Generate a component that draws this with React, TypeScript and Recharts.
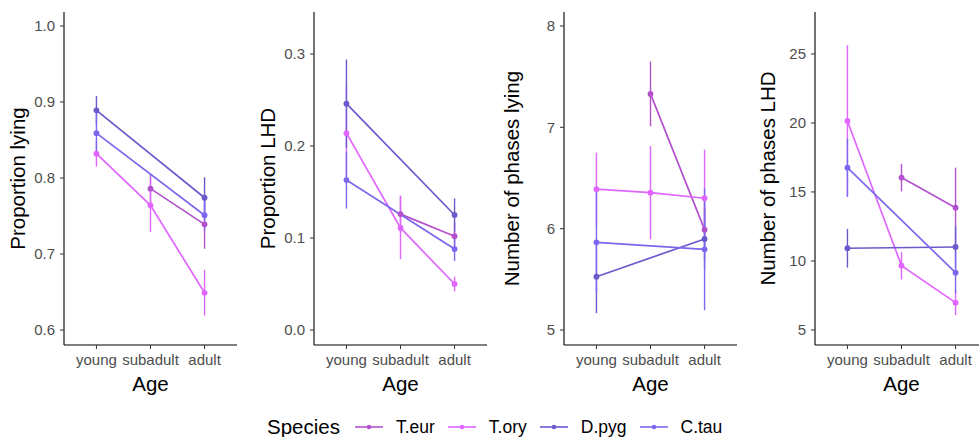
import React from "react";
import { LineChart, Line, XAxis, YAxis, ErrorBar } from "recharts";

const ages = ["young", "subadult", "adult"];
const speciesNames = ["T.eur", "T.ory", "D.pyg", "C.tau"];
const speciesColors = ["#B452CD", "#E066FF", "#6A5ACD", "#7B68EE"];

// rows follow speciesNames, columns follow ages (null = no data)
const lyingMean = [
  [null, 0.786, 0.739],
  [0.832, 0.764, 0.649],
  [0.889, null, 0.774],
  [0.859, null, 0.751],
];
const lyingErr = [
  [null, 0.019, 0.032],
  [0.017, 0.035, 0.03],
  [0.019, null, 0.027],
  [0.025, null, 0.02],
];

const lhdMean = [
  [null, 0.126, 0.102],
  [0.214, 0.111, 0.05],
  [0.246, null, 0.125],
  [0.163, null, 0.088],
];
const lhdErr = [
  [null, 0.02, 0.015],
  [0.052, 0.034, 0.008],
  [0.048, null, 0.018],
  [0.031, null, 0.013],
];

const phasesLyingMean = [
  [null, 7.33, 5.99],
  [6.39, 6.355, 6.3],
  [5.526, null, 5.898],
  [5.865, null, 5.796],
];
const phasesLyingErr = [
  [null, 0.32, 0.3],
  [0.36, 0.46, 0.48],
  [0.36, null, 0.3],
  [0.5, null, 0.6],
];

const phasesLhdMean = [
  [null, 16.04, 13.86],
  [20.14, 9.66, 6.98],
  [10.92, null, 11.01],
  [16.76, null, 9.15],
];
const phasesLhdErr = [
  [null, 1.0, 2.9],
  [5.5, 1.0, 0.9],
  [1.4, null, 1.5],
  [2.1, null, 1.5],
];

const lyingTicks = [0.6, 0.7, 0.8, 0.9, 1.0];
const lhdTicks = [0.0, 0.1, 0.2, 0.3];
const phasesLyingTicks = [5, 6, 7, 8];
const phasesLhdTicks = [5, 10, 15, 20, 25];

const FONT = "Arial, 'Liberation Sans', sans-serif";

type PanelProps = {
  means: (number | null)[][];
  errs: (number | null)[][];
  domain: [number, number];
  ticks: number[];
  digits: number;
  title: string;
  left: number;
  titleOffset: number;
};

function Panel({ means, errs, domain, ticks, digits, title, left, titleOffset }: PanelProps) {
  const data = ages.map((age, i) => {
    const row: Record<string, number | string | null> = { x: i + 1, age };
    speciesNames.forEach((_, k) => {
      row[`s${k}`] = means[k][i];
      row[`e${k}`] = errs[k][i];
    });
    return row;
  });

  return (
    <div style={{ position: "absolute", left, top: 0 }}>
      <LineChart
        width={242}
        height={395}
        data={data}
        margin={{ top: 12, right: 5, bottom: 0, left: 0 }}
      >
        <XAxis
          type="number"
          dataKey="x"
          domain={[0.4, 3.6]}
          ticks={[1, 2, 3]}
          interval={0}
          allowDataOverflow
          tickFormatter={(v: number) => ages[v - 1]}
          height={50}
          tickSize={4}
          tickMargin={5}
          axisLine={{ stroke: "#000", strokeWidth: 1.1 }}
          tickLine={{ stroke: "#333" }}
          tick={{ fill: "#4D4D4D", fontSize: 15, fontFamily: FONT }}
          label={{
            value: "Age",
            position: "insideBottom",
            offset: 4,
            style: { fill: "#000", fontSize: 20.5, fontFamily: FONT },
          }}
        />
        <YAxis
          type="number"
          domain={domain}
          ticks={ticks}
          interval={0}
          allowDataOverflow
          width={64}
          tickSize={4}
          tickMargin={5}
          tickFormatter={(v: number) => v.toFixed(digits)}
          axisLine={{ stroke: "#000", strokeWidth: 1.1 }}
          tickLine={{ stroke: "#333" }}
          tick={{ fill: "#4D4D4D", fontSize: 15, fontFamily: FONT }}
          label={{
            value: title,
            angle: -90,
            position: "insideLeft",
            offset: titleOffset,
            style: { textAnchor: "middle", fill: "#000", fontSize: 20.5, fontFamily: FONT },
          }}
        />
        {speciesNames.map((name, k) => (
          <Line
            key={name}
            name={name}
            dataKey={`s${k}`}
            stroke={speciesColors[k]}
            strokeWidth={1.7}
            connectNulls
            isAnimationActive={false}
            activeDot={false}
            dot={{ r: 2.9, fill: speciesColors[k], stroke: speciesColors[k], strokeWidth: 0 }}
          >
            <ErrorBar
              dataKey={`e${k}`}
              direction="y"
              width={0}
              stroke={speciesColors[k]}
              strokeWidth={1.4}
              isAnimationActive={false}
            />
          </Line>
        ))}
      </LineChart>
    </div>
  );
}

function LegendKey({ color }: { color: string }) {
  return (
    <svg width={28} height={10} style={{ display: "block" }}>
      <line x1={0} y1={5} x2={28} y2={5} stroke={color} strokeWidth={1.6} />
      <circle cx={14} cy={5} r={2.3} fill={color} />
    </svg>
  );
}

export default function App() {
  return (
    <div
      style={{
        position: "absolute",
        left: 0,
        top: 0,
        width: 979,
        height: 437,
        background: "#fff",
        overflow: "hidden",
        fontFamily: FONT,
      }}
    >
      <Panel
        means={lyingMean}
        errs={lyingErr}
        domain={[0.5803, 1.0184]}
        ticks={lyingTicks}
        digits={1}
        title="Proportion lying"
        left={0}
        titleOffset={18}
      />
      <Panel
        means={lhdMean}
        errs={lhdErr}
        domain={[-0.0163, 0.3457]}
        ticks={lhdTicks}
        digits={1}
        title="Proportion LHD"
        left={250}
        titleOffset={18}
      />
      <Panel
        means={phasesLyingMean}
        errs={phasesLyingErr}
        domain={[4.852, 8.138]}
        ticks={phasesLyingTicks}
        digits={0}
        title="Number of phases lying"
        left={500}
        titleOffset={12}
      />
      <Panel
        means={phasesLhdMean}
        errs={phasesLhdErr}
        domain={[3.91, 28.04]}
        ticks={phasesLhdTicks}
        digits={0}
        title="Number of phases LHD"
        left={751}
        titleOffset={17}
      />
      <div
        style={{
          position: "absolute",
          left: 267,
          top: 414,
          height: 26,
          display: "flex",
          alignItems: "center",
        }}
      >
        <span style={{ fontSize: 20.5, color: "#000" }}>Species</span>
        {speciesNames.map((name, k) => (
          <div key={name} style={{ display: "flex", alignItems: "center", marginLeft: k === 0 ? 15 : 13 }}>
            <LegendKey color={speciesColors[k]} />
            <span style={{ fontSize: 17.5, color: "#000", marginLeft: 13 }}>{name}</span>
          </div>
        ))}
      </div>
    </div>
  );
}
